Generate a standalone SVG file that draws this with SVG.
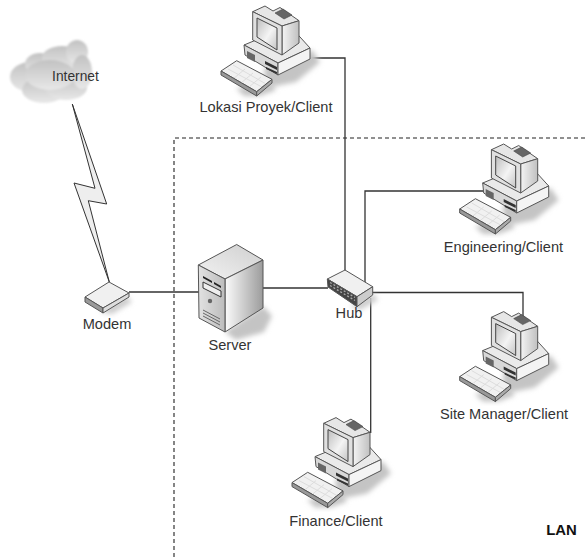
<svg xmlns="http://www.w3.org/2000/svg" xmlns:xlink="http://www.w3.org/1999/xlink" width="585" height="557" viewBox="0 0 585 557">
<style>
.t{font-family:"Liberation Sans",Arial,sans-serif;font-size:14.6px;fill:#333;text-anchor:middle}
.w{fill:none;stroke:#333;stroke-width:1.3}
.e{stroke:#555;stroke-width:1;stroke-linejoin:round}
</style>
<defs>
<filter id="soft" x="-10%" y="-10%" width="120%" height="120%"><feGaussianBlur stdDeviation="0.5"/></filter>
<filter id="sh" x="-30%" y="-30%" width="160%" height="160%"><feGaussianBlur stdDeviation="2.5"/></filter>
<filter id="cb" x="-10%" y="-10%" width="120%" height="120%"><feGaussianBlur stdDeviation="0.8"/></filter>
<linearGradient id="scr" x1="0" y1="0" x2="1" y2="1"><stop offset="0" stop-color="#bdbdbd"/><stop offset=".55" stop-color="#f4f4f4"/><stop offset="1" stop-color="#c4c4c4"/></linearGradient>
<linearGradient id="side" x1="0" y1="0" x2="1" y2="0"><stop offset="0" stop-color="#f4f4f4"/><stop offset="1" stop-color="#c0c0c0"/></linearGradient>
<linearGradient id="srv" x1="0" y1="0" x2="1" y2="0"><stop offset="0" stop-color="#fbfbfb"/><stop offset="1" stop-color="#9c9c9c"/></linearGradient>
<linearGradient id="srvf" x1="0" y1="0" x2="1" y2="0"><stop offset="0" stop-color="#e2e2e2"/><stop offset="1" stop-color="#bcbcbc"/></linearGradient>
<linearGradient id="top" x1="0" y1="1" x2="1" y2="0"><stop offset="0" stop-color="#f2f2f2"/><stop offset="1" stop-color="#cfcfcf"/></linearGradient>
<linearGradient id="cl" x1="0" y1="0" x2="0" y2="1"><stop offset="0" stop-color="#c2c2c2"/><stop offset="1" stop-color="#e8e8e8"/></linearGradient>
<g id="pc">
<path d="M264 68L312 50L320 62L296 82L266 88Z" fill="#c4c4c4" filter="url(#sh)"/>
<path d="M236 88L272 84L276 90L260 96L244 96Z" fill="#c4c4c4" filter="url(#sh)"/>
<g filter="url(#soft)">
<path class="e" d="M244 45L290 26L310 48L278 63Z" fill="#eaeaea"/>
<path class="e" d="M244 45L278 63V75L245 55Z" fill="#d8d8d8"/>
<path class="e" d="M278 63L310 48V59L278 75Z" fill="#f4f4f4"/>
<path d="M247 51L255 55V62L247 58Z" fill="#666"/>
<path d="M265 61L277 67V70L265 64ZM266 67L277 72V74L266 69Z" fill="#333"/>
<path class="e" d="M252.700 11.700L265 6L273 11L280 7.500L299 20.700L282 26Z" fill="#e6e6e6"/>
<path class="e" d="M282 26L299 20.700V43L282 55Z" fill="url(#side)"/>
<path class="e" d="M252.700 11.700L282 26V55L252.700 40Z" fill="#e0e0e0"/>
<path d="M257 18L277 28V50L257 37Z" fill="url(#scr)" stroke="#444"/>
<path d="M275 13L283 9L292 15L284 19Z" fill="#666" stroke="#444" stroke-width=".6"/>
<path class="e" d="M221 71L236.700 60.700L272 79.300L256.700 91.700Z" fill="#f1f1f1"/>
<path d="M228 69L262 87M233 65L266 84M233 79L245 69M241 83L253 73M249 87L261 77" stroke="#ddd" stroke-width="1" fill="none"/>
<path class="e" d="M221 71L256.700 91.700V96L221 75Z" fill="#999"/>
<path class="e" d="M256.700 91.700L272 79.300V83L256.700 96Z" fill="#aaa"/>
</g>
</g>
</defs>
<path d="M174 557V138H585" fill="none" stroke="#222" stroke-width="1.100" stroke-dasharray="4 3"/>
<g id="connectors">
<path class="w" d="M309 58H345V272"/>
<path class="w" d="M365 283V191H483"/>
<path class="w" d="M372 292.500H523V318"/>
<path class="w" d="M370.700 298V433"/>
<path class="w" d="M262 288H328"/>
<path class="w" d="M129 292H199"/>
<path d="M72.300 104L106.700 204L88.300 200.700L109.300 282L74 183L95 188.300Z" fill="#eee" stroke="#333" stroke-width="1" stroke-linejoin="miter"/>
</g>
<g id="internet">
<g filter="url(#cb)" fill="url(#cl)">
<ellipse cx="30" cy="77" rx="20" ry="15"/>
<ellipse cx="44" cy="90" rx="22" ry="13"/>
<ellipse cx="66" cy="88" rx="21" ry="12"/>
<ellipse cx="40" cy="64" rx="15" ry="11"/>
<ellipse cx="62" cy="58" rx="20" ry="12"/>
<ellipse cx="77" cy="52" rx="11" ry="12"/>
<ellipse cx="82" cy="72" rx="10" ry="17"/>
<ellipse cx="50" cy="75" rx="25" ry="15"/>
</g>
<text x="75.500" y="81" class="t" style="font-size:13.800px">Internet</text>
</g>
<g id="pc1"><use xlink:href="#pc" href="#pc"/><text class="t" x="266" y="112">Lokasi Proyek/Client</text></g>
<g id="pc2"><use xlink:href="#pc" href="#pc" transform="translate(238.700 138)"/><text class="t" x="503.500" y="252">Engineering/Client</text></g>
<g id="pc3"><use xlink:href="#pc" href="#pc" transform="translate(238.700 305.600)"/><text class="t" x="504" y="419">Site Manager/Client</text></g>
<g id="pc4"><use xlink:href="#pc" href="#pc" transform="translate(71 411.600)"/><text class="t" x="336" y="526">Finance/Client</text></g>
<g id="server">
<path d="M225 332L263 306L272 316L264 332L236 340Z" fill="#c4c4c4" filter="url(#sh)"/>
<g filter="url(#soft)">
<path class="e" d="M198.300 265L236.700 244.500L263 260L225 279Z" fill="url(#top)"/>
<path class="e" d="M225 279L263 260V308L225 332Z" fill="url(#srv)"/>
<path class="e" d="M198.300 265L225 279V332L199 318Z" fill="url(#srvf)"/>
<path d="M203 276L212 281V283L203 278ZM214 282L221 286V288L214 284Z" fill="#222"/>
<path d="M203 282L221 291V297L203 288Z" fill="#eee" stroke="#333" stroke-width="1"/>
<circle cx="210" cy="301" r="2.200" fill="#666"/>
<path d="M203 310L220 319M203 313L220 322M203 316L220 325" stroke="#666" fill="none"/>
</g>
<text class="t" x="230" y="350">Server</text>
</g>
<g id="hub">
<path d="M350 306L374 294L378 300L360 310Z" fill="#ccc" filter="url(#sh)"/>
<g filter="url(#soft)">
<path class="e" d="M327.300 279L345 270L372.700 286.700L357 296.700Z" fill="#f0f0f0"/>
<path class="e" d="M327.300 279L357 296.700V306.700L328 287Z" fill="#444"/>
<path class="e" d="M357 296.700L372.700 286.700V295L357 306.700Z" fill="#ccc"/>
<path d="M330 282.500L355 297.500M330 285.500L355 300.500" stroke="#aaa" stroke-width="1.300" stroke-dasharray="2 2" fill="none"/>
</g>
<text class="t" x="349" y="318">Hub</text>
</g>
<g id="modem">
<path d="M100 312L126 296L132 302L112 314Z" fill="#ccc" filter="url(#sh)"/>
<g filter="url(#soft)">
<path class="e" d="M109 282L129 293L103 308L85 297Z" fill="#f0f0f0"/>
<path class="e" d="M85 297L103 308V313L85 302Z" fill="#999"/>
<path class="e" d="M103 308L129 293V297L103 313Z" fill="#ddd"/>
</g>
<text class="t" x="107" y="329">Modem</text>
</g>
<text x="561.500" y="535" style="font-family:'Liberation Sans',Arial,sans-serif;font-size:14.900px;font-weight:bold;text-anchor:middle" fill="#111">LAN</text>
</svg>
